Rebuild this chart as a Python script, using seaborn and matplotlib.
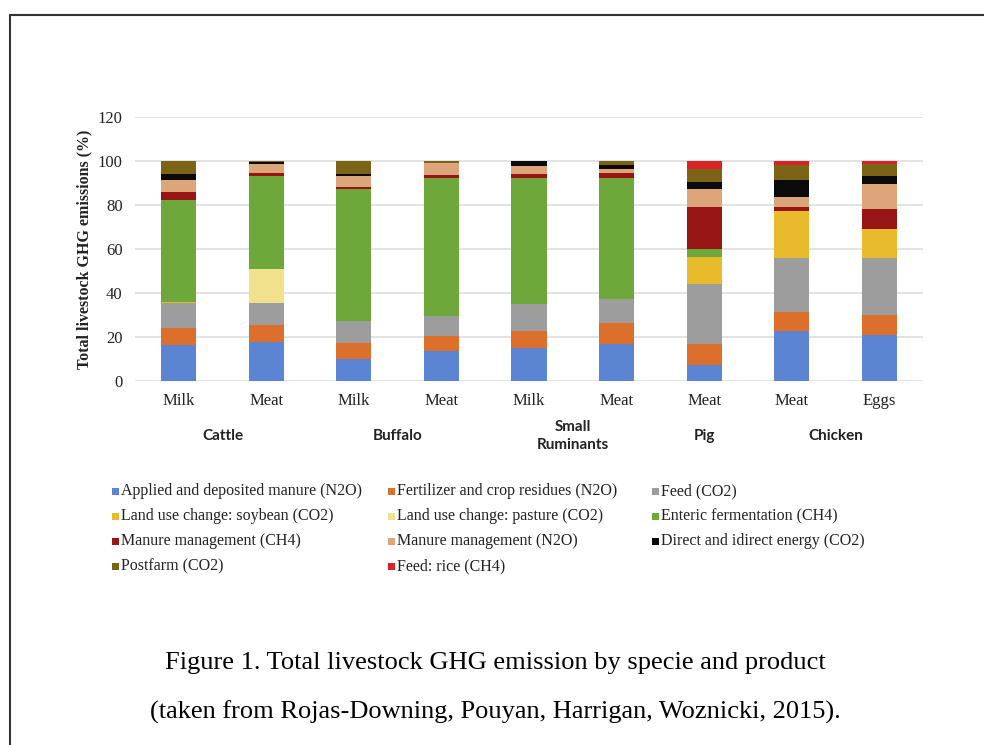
import numpy as np
import pandas as pd
import seaborn as sns
import matplotlib.pyplot as plt
from matplotlib.patches import Rectangle
from matplotlib.lines import Line2D

# bars, left to right
bars = ["Cattle Milk", "Cattle Meat", "Buffalo Milk", "Buffalo Meat",
        "SR Milk", "SR Meat", "Pig Meat", "Chicken Meat", "Chicken Eggs"]
products = ["Milk", "Meat", "Milk", "Meat", "Milk", "Meat", "Meat", "Meat", "Eggs"]
species = ["Cattle", "Buffalo", "Small\nRuminants", "Pig", "Chicken"]
species_x = [0.5, 2.5, 4.5, 6.0, 7.5]

sources = ["Applied and deposited manure (N2O)", "Fertilizer and crop residues (N2O)", "Feed (CO2)",
           "Land use change: soybean (CO2)", "Land use change: pasture (CO2)", "Enteric fermentation (CH4)",
           "Manure management (CH4)", "Manure management (N2O)", "Direct and idirect energy (CO2)",
           "Postfarm (CO2)", "Feed: rice (CH4)"]

# share of emissions (%) per source, one value per bar
applied_manure = [16.5, 17.8, 9.9, 13.7, 15.2, 17.0, 7.4, 22.5, 20.8]
fertilizer = [7.8, 7.5, 7.4, 6.8, 7.4, 9.4, 9.3, 8.9, 9.1]
feed = [11.2, 10.2, 10.0, 9.2, 12.6, 10.9, 27.2, 24.7, 26.2]
luc_soybean = [0.5, 0, 0, 0, 0, 0, 12.5, 21.1, 13.1]
luc_pasture = [0, 15.3, 0, 0, 0, 0, 0, 0, 0]
enteric = [46.2, 42.5, 59.8, 62.7, 56.9, 54.8, 3.4, 0, 0]
manure_ch4 = [3.8, 1.4, 0.9, 1.2, 2.0, 2.3, 19.1, 1.7, 8.9]
manure_n2o = [5.3, 3.8, 5.2, 5.3, 3.6, 1.8, 8.2, 4.9, 11.3]
energy = [2.7, 0.9, 0.9, 0.3, 2.3, 2.1, 3.5, 7.6, 3.8]
postfarm = [6.0, 0.6, 5.9, 0.8, 0, 1.7, 5.6, 6.8, 5.3]
rice = [0, 0, 0, 0, 0, 0, 3.8, 1.8, 1.5]

colors = ["#5b84d2", "#dd6f2c", "#9d9d9d", "#e8bb2c", "#f1e08c", "#6ea73a",
          "#971515", "#dca57a", "#0a0a0a", "#7b6416", "#d82424"]

series = [applied_manure, fertilizer, feed, luc_soybean, luc_pasture, enteric,
          manure_ch4, manure_n2o, energy, postfarm, rice]

df = pd.DataFrame(dict(zip(sources, series)), index=bars)
cum = df.cumsum(axis=1)

sns.set_theme(style="white")
plt.rcParams["font.family"] = ["Liberation Serif", "DejaVu Serif"]

fig = plt.figure(figsize=(9.84, 7.45), dpi=100)
ax = fig.add_axes([0.1372, 0.4886, 0.8008, 0.3544])

# stacked bars: draw cumulative totals from the top series down
for src, col in reversed(list(zip(sources, colors))):
    d = pd.DataFrame({"bar": bars, "top": cum[src].values})
    sns.barplot(data=d, x="bar", y="top", color=col, width=0.4,
                saturation=1, linewidth=0, ax=ax, zorder=3)

ax.set_xlim(-0.5, 8.5)
ax.set_ylim(0, 120)
ax.set_yticks(np.arange(0, 121, 20))
ax.yaxis.grid(True, color="#dedede", linewidth=1.2, zorder=0)
ax.set_axisbelow(True)
for s in ax.spines.values():
    s.set_visible(False)
ax.tick_params(axis="both", length=0, labelsize=12, colors="#222222")
ax.tick_params(axis="y", pad=9)
ax.tick_params(axis="x", pad=9)
ax.set_xticks(range(len(bars)))
ax.set_xticklabels(products)
ax.set_xlabel("")
ax.set_ylabel("Total livestock GHG emissions (%)", fontsize=11.5, fontweight="bold",
              color="#222222", labelpad=4)

for name, xv in zip(species, species_x):
    ax.text(xv, -25, name, ha="center", va="center",
            fontsize=11, fontweight="bold", family=["Lato", "DejaVu Sans"],
            color="#222222", clip_on=False, linespacing=1.35)

# legend, row by row in 3 columns
col_x = [115, 391, 655]
row_y = [491, 516, 541, 566]
for i, (src, col) in enumerate(zip(sources, colors)):
    r, c = divmod(i, 3)
    px, py = col_x[c], row_y[r]
    fig.patches.append(Rectangle(((px - 3.5) / 984, 1 - (py + 3.5) / 745), 7 / 984, 7 / 745,
                                 transform=fig.transFigure, facecolor=col, edgecolor="none"))
    fig.text((px + 6) / 984, 1 - py / 745, src, ha="left", va="center",
             fontsize=11.5, color="#222222")

fig.text(495 / 984, 1 - 663 / 745, "Figure 1. Total livestock GHG emission by specie and product",
         ha="center", va="center", fontsize=19, color="black")
fig.text(495 / 984, 1 - 712 / 745, "(taken from Rojas-Downing, Pouyan, Harrigan, Woznicki, 2015).",
         ha="center", va="center", fontsize=19, color="black")

# page frame
fig.add_artist(Line2D([10 / 984, 10 / 984], [0, 1 - 15 / 745], color="#333333", linewidth=1.5,
                      transform=fig.transFigure))
fig.add_artist(Line2D([10 / 984, 1], [1 - 15 / 745, 1 - 15 / 745], color="#333333", linewidth=1.5,
                      transform=fig.transFigure))

fig.savefig("out.png", dpi=100)
